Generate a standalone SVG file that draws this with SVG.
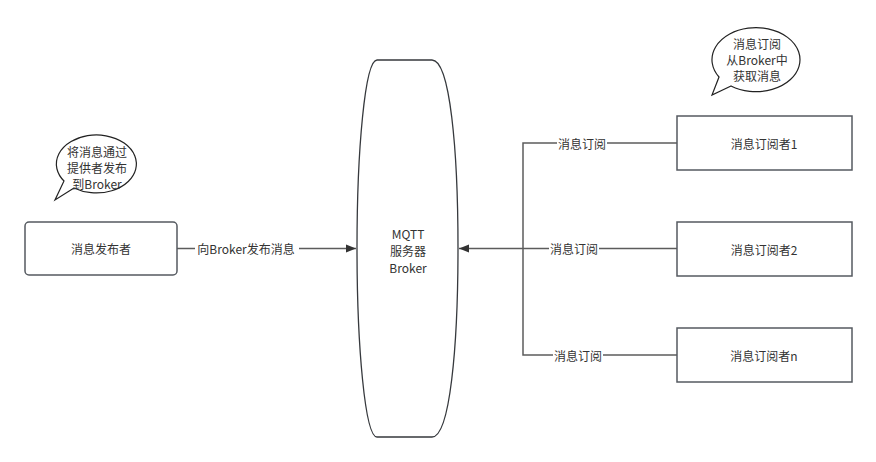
<svg xmlns="http://www.w3.org/2000/svg" width="876" height="462" viewBox="0 0 876 462">
<defs>
<marker id="arr" viewBox="0 0 10 10" refX="10" refY="5" markerWidth="10" markerHeight="10" markerUnits="userSpaceOnUse" orient="auto">
<path d="M0,1 L10,5 L0,9 Z" fill="#333"/>
</marker>
<style>
text{font-family:"Noto Sans CJK SC","Microsoft YaHei",sans-serif;font-size:12px;fill:#333;text-anchor:middle;dominant-baseline:central}
.box{fill:#fff;stroke:#555a60;stroke-width:1.5}
.line{fill:none;stroke:#5c5c5c;stroke-width:1.5}
.lbg{fill:#fff}
</style>
</defs>
<rect width="876" height="462" fill="#fff"/>
<g id="connectors">
<path class="line" d="M177,248.5 L356,248.5" marker-end="url(#arr)"/>
<path class="line" d="M677,143 L523,143 L523,355 L677,355"/>
<path class="line" d="M677,248.5 L459,248.5" marker-end="url(#arr)"/>
<rect class="lbg" x="195" y="240" width="104" height="17"/>
<text x="246" y="248">向Broker发布消息</text>
<rect class="lbg" x="557" y="135" width="50" height="17"/>
<text x="582" y="143">消息订阅</text>
<rect class="lbg" x="549" y="240" width="50" height="17"/>
<text x="574" y="248">消息订阅</text>
<rect class="lbg" x="553" y="347" width="50" height="17"/>
<text x="578" y="355">消息订阅</text>
</g>
<g id="publisher">
<rect class="box" x="25" y="222" width="152" height="53" rx="4"/>
<text x="101" y="248">消息发布者</text>
</g>
<g id="broker">
<path d="M377,60 L432,60 C450,60 458,150 458,248 C458,346 450,437 432,437 L377,437 C365,437 357,346 357,248 C357,150 365,60 377,60 Z" fill="#fff" stroke="#36393d" stroke-width="1.3"/>
<text x="408" y="233">MQTT</text>
<text x="408" y="250">服务器</text>
<text x="408" y="267">Broker</text>
</g>
<g id="sub1">
<rect class="box" x="677" y="116" width="175" height="54"/>
<text x="764" y="143">消息订阅者1</text>
</g>
<g id="sub2">
<rect class="box" x="677" y="222" width="175" height="54"/>
<text x="764" y="249">消息订阅者2</text>
</g>
<g id="subn">
<rect class="box" x="677" y="328" width="175" height="54"/>
<text x="764" y="355">消息订阅者n</text>
</g>
<g id="bubble1">
<path d="M74,188 L55,200 L64,181 A40 29 0 1 1 74,188 Z" fill="#fff" stroke="#222" stroke-width="1.2"/>
<text x="97" y="151">将消息通过</text>
<text x="97" y="167">提供者发布</text>
<text x="97" y="183">到Broker</text>
</g>
<g id="bubble2">
<path d="M731,86 L712,95 L719,77 A44 32 0 1 1 731,86 Z" fill="#fff" stroke="#222" stroke-width="1.2"/>
<text x="757" y="43">消息订阅</text>
<text x="757" y="59">从Broker中</text>
<text x="757" y="75">获取消息</text>
</g>
</svg>
